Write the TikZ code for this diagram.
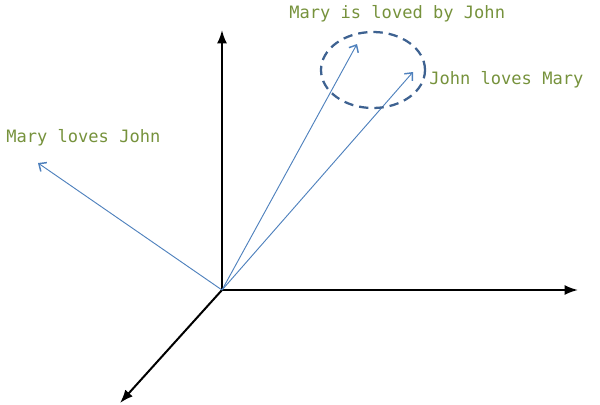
\documentclass[tikz,border=0pt]{standalone}
\usepackage{fontspec}
\setmonofont{DejaVu Sans Mono}
\usetikzlibrary{positioning, arrows.meta, shapes.geometric}

\definecolor{labelgreen}{HTML}{76923C}
\definecolor{vecblue}{HTML}{4F81BD}
\definecolor{ringblue}{HTML}{3E6291}

\tikzset{
    axis/.style={line width=1.5pt, -{Latex[length=10pt, width=7.5pt]}},
    vector/.style={vecblue, line width=0.7pt, -{Straight Barb[length=4.5pt, width=8pt, line width=1.1pt]}},
    sentence/.style={text=labelgreen, font=\ttfamily\fontsize{12.8}{14}\selectfont, inner sep=0pt}
}

\begin{document}
\begin{tikzpicture}[x=0.75pt, y=-0.75pt]
    \useasboundingbox (0,0) rectangle (600,404);

    % axes
    \coordinate (o) at (222,290);
    \coordinate (up) at (222,30);
    \coordinate (right) at (578,290);
    \coordinate (front) at (120,403);
    \draw[axis] (o) -- (up);
    \draw[axis] (o) -- (right);
    \draw[axis] (o) -- (front);

    % sentence vectors
    \coordinate (mlj) at (38,163);
    \coordinate (mlbj) at (357,44);
    \coordinate (jlm) at (413,72);
    \draw[vector] (o) -- (mlj);
    \draw[vector] (o) -- (mlbj);
    \draw[vector] (o) -- (jlm);

    % the two that mean the same
    \node[
        draw=ringblue,
        ellipse,
        dash pattern=on 7pt off 4.5pt,
        line width=1.7pt,
        minimum width=78pt,
        minimum height=57pt,
        inner sep=0pt
    ] (ring) at (373,70) {};

    \node[sentence, anchor=west] (lbl-mlj) at (6,138) {Mary loves John};
    \node[sentence, anchor=west] (lbl-mlbj) at (289,14) {Mary is loved by John};
    \node[sentence, anchor=west] (lbl-jlm) at (429,80) {John loves Mary};
\end{tikzpicture}
\end{document}
